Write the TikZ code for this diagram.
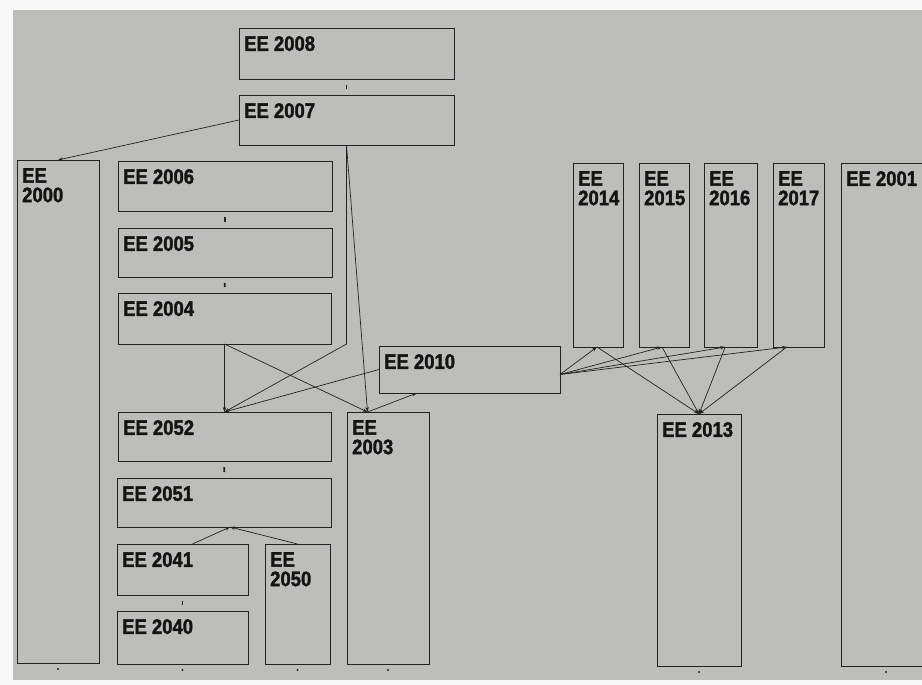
\documentclass[tikz,border=0pt]{standalone}
\usepackage{fontspec}
\newfontfamily\eefont{Liberation Sans}[FakeStretch=0.88,FakeBold=1.6]
\usetikzlibrary{arrows.meta,calc}
\definecolor{paper}{RGB}{189,189,185}
\definecolor{ink}{RGB}{34,34,34}
\begin{document}
\begin{tikzpicture}[x=1pt,y=-1pt,
  eebox/.style={draw=ink,line width=0.8pt,inner sep=0pt,outer sep=0pt,anchor=north west},
  eelabel/.style={anchor=north west,inner sep=0pt,xshift=5pt,yshift=-8pt,align=left,text=black!92,
    font=\eefont\bfseries\fontsize{21}{19.5}\selectfont},
  link/.style={draw=ink,line width=0.7pt},
  arr/.style={link,-{Stealth[length=5pt,width=3.4pt]}},
  stub/.style={draw=ink,line width=1.6pt,shorten <=6pt,shorten >=6pt}]
\useasboundingbox (0,0) rectangle (922,685);
\fill[white!90!paper] (0,0) rectangle (922,685);
\fill[paper] (13,10) rectangle (922,680);
% left block
\node[eebox,minimum width=215pt,minimum height=51pt,label={[eelabel]north west:EE 2008}] (e2008) at (239,28) {};
\node[eebox,minimum width=215pt,minimum height=50pt,label={[eelabel]north west:EE 2007}] (e2007) at (239,95) {};
\node[eebox,minimum width=82pt,minimum height=503pt,label={[eelabel]north west:EE\\2000}] (e2000) at (17,160) {};
\node[eebox,minimum width=214pt,minimum height=50pt,label={[eelabel]north west:EE 2006}] (e2006) at (118,161) {};
\node[eebox,minimum width=214pt,minimum height=49pt,label={[eelabel]north west:EE 2005}] (e2005) at (118,228) {};
\node[eebox,minimum width=213pt,minimum height=51pt,label={[eelabel]north west:EE 2004}] (e2004) at (118,293) {};
\node[eebox,minimum width=213pt,minimum height=49pt,label={[eelabel]north west:EE 2052}] (e2052) at (118,412) {};
\node[eebox,minimum width=214pt,minimum height=49pt,label={[eelabel]north west:EE 2051}] (e2051) at (117,478) {};
\node[eebox,minimum width=131pt,minimum height=51pt,label={[eelabel]north west:EE 2041}] (e2041) at (117,544) {};
\node[eebox,minimum width=131pt,minimum height=53pt,label={[eelabel]north west:EE 2040}] (e2040) at (117,611) {};
\node[eebox,minimum width=65pt,minimum height=120pt,label={[eelabel]north west:EE\\2050}] (e2050) at (265,544) {};
\node[eebox,minimum width=82pt,minimum height=252pt,label={[eelabel]north west:EE\\2003}] (e2003) at (347,412) {};
\node[eebox,minimum width=181pt,minimum height=47pt,label={[eelabel]north west:EE 2010}] (e2010) at (379,346) {};
% right block
\node[eebox,minimum width=50pt,minimum height=184pt,label={[eelabel]north west:EE\\2014}] (e2014) at (573,163) {};
\node[eebox,minimum width=50pt,minimum height=184pt,label={[eelabel]north west:EE\\2015}] (e2015) at (639,163) {};
\node[eebox,minimum width=53pt,minimum height=184pt,label={[eelabel]north west:EE\\2016}] (e2016) at (704,163) {};
\node[eebox,minimum width=51pt,minimum height=184pt,label={[eelabel]north west:EE\\2017}] (e2017) at (773,163) {};
\node[eebox,minimum width=90pt,minimum height=503pt,label={[eelabel]north west:EE 2001}] (e2001) at (841,163) {};
\node[eebox,minimum width=84pt,minimum height=252pt,label={[eelabel]north west:EE 2013}] (e2013) at (657,414) {};
% meeting points
\coordinate (t2003) at ($(e2003.north west)!0.25!(e2003.north east)$);
\coordinate (b2010) at ($(e2010.south west)!0.21!(e2010.south east)$);
\coordinate (r2010) at ([yshift=-5pt]e2010.east);
\coordinate (t2051) at ([xshift=6pt]e2051.south);
\foreach \n/\f in {2014/0.48,2015/0.46,2016/0.4,2017/0.27}
  \coordinate (b\n) at ($(e\n.south west)!\f!(e\n.south east)$);
% connectors
\draw[arr] (e2007.west) -- (e2000.north);
\draw[arr] (e2007.south) -- (t2003);
\draw[arr] (e2007.south) -- (e2007.south |- e2004.south) -- (e2052.north);
\draw[arr] (e2004.south) -- (e2052.north);
\draw[arr] (e2004.south) -- (t2003);
\draw[arr] (e2010.west) -- (e2052.north);
\draw[arr] (t2003) -- (b2010);
\foreach \n in {2014,2015,2016,2017} {
  \draw[arr] (r2010) -- (b\n);
  \draw[arr] (b\n) -- (e2013.north);
}
\draw[arr] ([xshift=10pt]e2041.north) -- (t2051);
\draw[arr] (e2050.north) -- (t2051);
% stubs between stacked boxes
\draw[stub] (e2008) -- (e2007);
\draw[stub] (e2006) -- (e2005);
\draw[stub] (e2005) -- (e2004);
\draw[stub] (e2052) -- (e2051);
\draw[stub] (e2041) -- (e2040);
\foreach \b in {2000,2040,2050,2003,2013,2001}
  \fill[ink] ([yshift=-6pt]e\b.south) circle (1.2pt);
\end{tikzpicture}
\end{document}
